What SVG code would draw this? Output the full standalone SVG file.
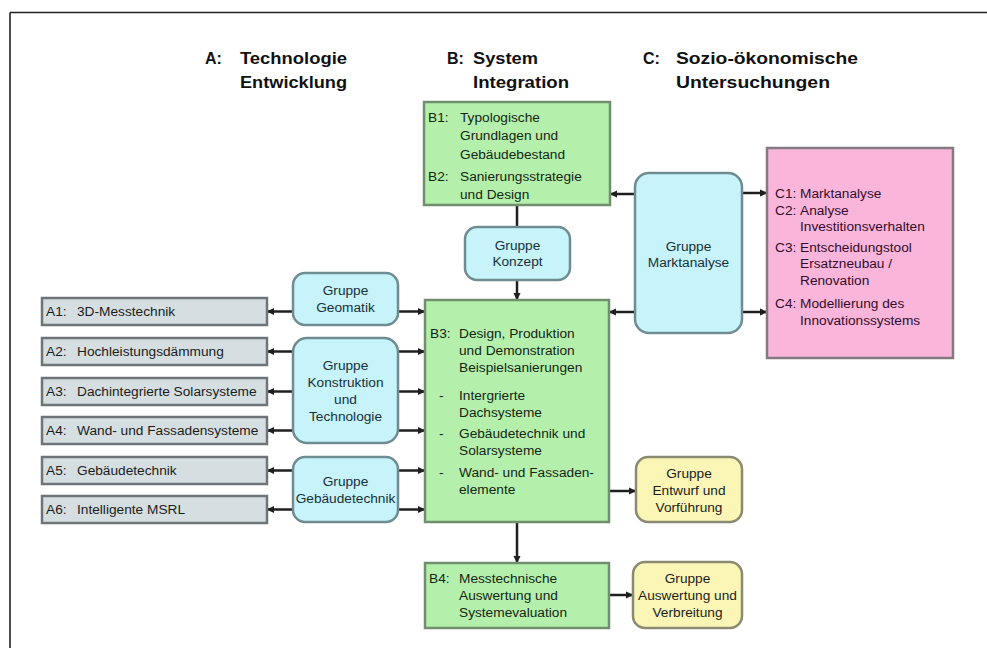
<svg xmlns="http://www.w3.org/2000/svg" width="987" height="648" viewBox="0 0 987 648">
<style>
.hdr{font-family:"Liberation Sans",Arial,sans-serif;font-weight:bold;font-size:16px;fill:#111}
.t{font-family:"Liberation Sans",Arial,sans-serif;font-size:13.7px}
.tb{fill:#142614}
.tg{fill:#1a2f38}
.tc{fill:#350b2d}
.ta{fill:#1c1c1c}
.tm{text-anchor:middle}
.green{fill:#b4f0ac;stroke:#6f8f6f;stroke-width:2.5}
.cyan{fill:#c6f4fa;stroke:#6f8c92;stroke-width:2.5}
.pink{fill:#f9b6da;stroke:#857a80;stroke-width:2.5}
.yellow{fill:#fbf6b6;stroke:#8a8a72;stroke-width:2.5}
.gray{fill:#d5dee1;stroke:#6e7478;stroke-width:2.5}
.c{stroke:#1f1f1f;stroke-width:2.5;fill:none}
.ca{stroke:#1f1f1f;stroke-width:2.5;fill:none;marker-end:url(#ah)}
</style>
<defs>
<marker id="ah" markerUnits="userSpaceOnUse" markerWidth="8" markerHeight="8" refX="7" refY="4" orient="auto">
<path d="M0,0.5 L7.5,4 L0,7.5 z" fill="#1f1f1f"/>
</marker>
</defs>
<rect x="0" y="0" width="987" height="648" fill="#ffffff"/>
<path d="M10,12.5 H987 M10,12.5 V648" stroke="#222" stroke-width="1.6" fill="none"/>

<g id="headers">
<text class="hdr" x="205" y="64">A:</text>
<text class="hdr" x="240" y="64" textLength="107" lengthAdjust="spacingAndGlyphs">Technologie</text>
<text class="hdr" x="240" y="88" textLength="107" lengthAdjust="spacingAndGlyphs">Entwicklung</text>
<text class="hdr" x="447" y="64">B:</text>
<text class="hdr" x="473" y="64" textLength="65" lengthAdjust="spacingAndGlyphs">System</text>
<text class="hdr" x="473" y="88" textLength="96" lengthAdjust="spacingAndGlyphs">Integration</text>
<text class="hdr" x="643" y="64">C:</text>
<text class="hdr" x="676" y="64" textLength="182" lengthAdjust="spacingAndGlyphs">Sozio-ökonomische</text>
<text class="hdr" x="676" y="88" textLength="154" lengthAdjust="spacingAndGlyphs">Untersuchungen</text>
</g>

<g id="connectors">
<path class="c" d="M517,205 V227"/>
<path class="ca" d="M517,280 V300"/>
<path class="ca" d="M635,194 H610"/>
<path class="ca" d="M635,312 H609"/>
<path class="ca" d="M742,193 H767"/>
<path class="ca" d="M742,312 H767"/>
<path class="ca" d="M293,311.5 H267"/>
<path class="ca" d="M293,351.5 H267"/>
<path class="ca" d="M293,391.5 H267"/>
<path class="ca" d="M293,430.5 H267"/>
<path class="ca" d="M293,470.5 H267"/>
<path class="ca" d="M293,509.5 H267"/>
<path class="ca" d="M398,311.5 H425"/>
<path class="ca" d="M398,351.5 H425"/>
<path class="ca" d="M398,391.5 H425"/>
<path class="ca" d="M398,430.5 H425"/>
<path class="ca" d="M398,470.5 H425"/>
<path class="ca" d="M398,509.5 H425"/>
<path class="ca" d="M517,522 V563"/>
<path class="ca" d="M609,491 H636"/>
<path class="ca" d="M609,595 H633"/>
</g>

<g id="B1B2">
<rect class="green" x="424" y="102" width="186" height="103"/>
<text class="t tb" x="428" y="121.5">B1:</text>
<text class="t tb" x="460" y="121.5">Typologische</text>
<text class="t tb" x="460" y="139.5">Grundlagen und</text>
<text class="t tb" x="460" y="158.5">Gebäudebestand</text>
<text class="t tb" x="428" y="180.5">B2:</text>
<text class="t tb" x="460" y="180.5">Sanierungsstrategie</text>
<text class="t tb" x="460" y="198.5">und Design</text>
</g>

<g id="konzept">
<rect class="cyan" x="465" y="227" width="105" height="53" rx="12"/>
<text class="t tg tm" x="517.5" y="249.5">Gruppe</text>
<text class="t tg tm" x="517.5" y="265.5">Konzept</text>
</g>

<g id="marktanalyse">
<rect class="cyan" x="635" y="173" width="107" height="160" rx="14"/>
<text class="t tg tm" x="688.5" y="250.5">Gruppe</text>
<text class="t tg tm" x="688.5" y="266.5">Marktanalyse</text>
</g>

<g id="C">
<rect class="pink" x="767" y="148" width="186" height="210"/>
<text class="t tc" x="775" y="197.5">C1:</text>
<text class="t tc" x="800" y="197.5">Marktanalyse</text>
<text class="t tc" x="775" y="214.5">C2:</text>
<text class="t tc" x="800" y="214.5">Analyse</text>
<text class="t tc" x="800" y="230.5">Investitionsverhalten</text>
<text class="t tc" x="775" y="251.5">C3:</text>
<text class="t tc" x="800" y="251.5">Entscheidungstool</text>
<text class="t tc" x="800" y="267.5">Ersatzneubau /</text>
<text class="t tc" x="800" y="284.5">Renovation</text>
<text class="t tc" x="775" y="307.5">C4:</text>
<text class="t tc" x="800" y="307.5">Modellierung des</text>
<text class="t tc" x="800" y="324.5">Innovationssystems</text>
</g>

<g id="A1">
<rect class="gray" x="42" y="298" width="225" height="27"/>
<text class="t ta" x="46" y="316">A1:</text>
<text class="t ta" x="77" y="316">3D-Messtechnik</text>
</g>
<g id="A2">
<rect class="gray" x="42" y="338" width="225" height="27"/>
<text class="t ta" x="46" y="356">A2:</text>
<text class="t ta" x="77" y="356">Hochleistungsdämmung</text>
</g>
<g id="A3">
<rect class="gray" x="42" y="378" width="225" height="27"/>
<text class="t ta" x="46" y="396">A3:</text>
<text class="t ta" x="77" y="396">Dachintegrierte Solarsysteme</text>
</g>
<g id="A4">
<rect class="gray" x="42" y="417" width="225" height="27"/>
<text class="t ta" x="46" y="435">A4:</text>
<text class="t ta" x="77" y="435">Wand- und Fassadensysteme</text>
</g>
<g id="A5">
<rect class="gray" x="42" y="457" width="225" height="27"/>
<text class="t ta" x="46" y="475">A5:</text>
<text class="t ta" x="77" y="475">Gebäudetechnik</text>
</g>
<g id="A6">
<rect class="gray" x="42" y="496" width="225" height="27"/>
<text class="t ta" x="46" y="514">A6:</text>
<text class="t ta" x="77" y="514">Intelligente MSRL</text>
</g>

<g id="geomatik">
<rect class="cyan" x="293" y="273" width="105" height="52" rx="12"/>
<text class="t tg tm" x="345.5" y="294.5">Gruppe</text>
<text class="t tg tm" x="345.5" y="311.5">Geomatik</text>
</g>
<g id="konstruktion">
<rect class="cyan" x="293" y="338" width="105" height="105" rx="14"/>
<text class="t tg tm" x="345.5" y="369.5">Gruppe</text>
<text class="t tg tm" x="345.5" y="386.5">Konstruktion</text>
<text class="t tg tm" x="345.5" y="403.5">und</text>
<text class="t tg tm" x="345.5" y="420.5">Technologie</text>
</g>
<g id="gebaeudetechnik">
<rect class="cyan" x="293" y="457" width="105" height="65" rx="12"/>
<text class="t tg tm" x="345.5" y="485.5">Gruppe</text>
<text class="t tg tm" x="345.5" y="502.5">Gebäudetechnik</text>
</g>

<g id="B3">
<rect class="green" x="425" y="300" width="184" height="222"/>
<text class="t tb" x="430" y="337.5">B3:</text>
<text class="t tb" x="459" y="337.5">Design, Produktion</text>
<text class="t tb" x="459" y="354.5">und Demonstration</text>
<text class="t tb" x="459" y="371.5">Beispielsanierungen</text>
<text class="t tb" x="439" y="399.5">-</text>
<text class="t tb" x="459" y="399.5">Intergrierte</text>
<text class="t tb" x="459" y="416.5">Dachsysteme</text>
<text class="t tb" x="439" y="437.5">-</text>
<text class="t tb" x="459" y="437.5">Gebäudetechnik und</text>
<text class="t tb" x="459" y="454.5">Solarsysteme</text>
<text class="t tb" x="439" y="476.5">-</text>
<text class="t tb" x="459" y="476.5">Wand- und Fassaden-</text>
<text class="t tb" x="459" y="493.5">elemente</text>
</g>

<g id="B4">
<rect class="green" x="425" y="563" width="184" height="65"/>
<text class="t tb" x="429" y="582.5">B4:</text>
<text class="t tb" x="459" y="582.5">Messtechnische</text>
<text class="t tb" x="459" y="599.5">Auswertung und</text>
<text class="t tb" x="459" y="616.5">Systemevaluation</text>
</g>

<g id="entwurf">
<rect class="yellow" x="636" y="457" width="106" height="65" rx="12"/>
<text class="t ta tm" x="689" y="477.5">Gruppe</text>
<text class="t ta tm" x="689" y="494.5">Entwurf und</text>
<text class="t ta tm" x="689" y="511.5">Vorführung</text>
</g>
<g id="auswertung">
<rect class="yellow" x="633" y="562" width="109" height="66" rx="12"/>
<text class="t ta tm" x="687.5" y="582.5">Gruppe</text>
<text class="t ta tm" x="687.5" y="599.5">Auswertung und</text>
<text class="t ta tm" x="687.5" y="616.5">Verbreitung</text>
</g>
</svg>
